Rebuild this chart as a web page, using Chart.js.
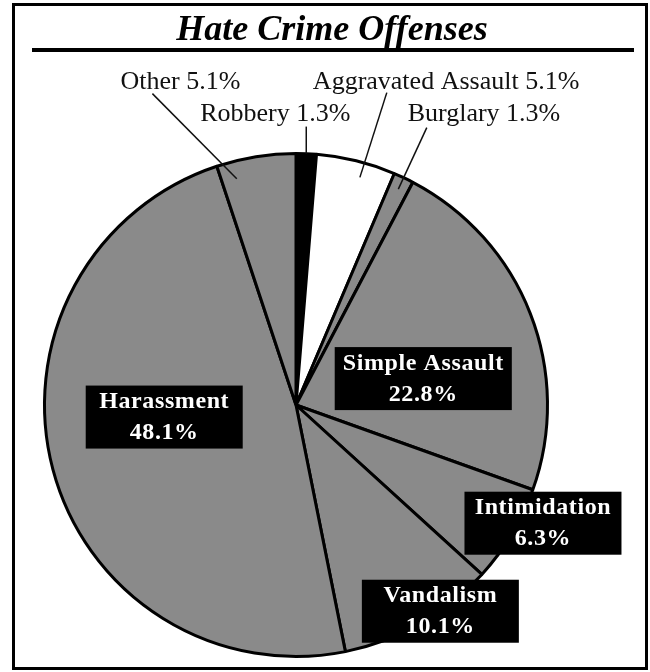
<!DOCTYPE html>
<html>
<head>
<meta charset="utf-8">
<script src="https://cdn.jsdelivr.net/npm/chart.js@4"></script>
<style>
  html, body { margin: 0; padding: 0; background: #fff; }
  canvas { display: block; }
</style>
</head>
<body>
<canvas id="pieChart" width="650" height="672"></canvas>
<script>
// ===== DATA =====
const categories = ['Robbery', 'Aggravated Assault', 'Burglary', 'Simple Assault',
                    'Intimidation', 'Vandalism', 'Harassment', 'Other'];
const percents = [1.3, 5.1, 1.3, 22.8, 6.3, 10.1, 48.1, 5.1];

// ===== STYLE =====
const GRAY = '#8a8a8a';
const sliceColors = ['#000000', '#ffffff', GRAY, GRAY, GRAY, GRAY, GRAY, GRAY];
const SERIF = '"Liberation Serif", "Times New Roman", serif';

// boxed labels inside the pie: centre offset in units of radius
const boxLabels = {
  'Simple Assault': { dx: 0.506, dy: -0.105 },
  'Harassment':     { dx: -0.524, dy: 0.048 },
  'Intimidation':   { dx: 0.982, dy: 0.470 },
  'Vandalism':      { dx: 0.574, dy: 0.820 }
};

// outside labels: text anchor (left, baseline), leader outer end, leader inner point (t along slice, r fraction)
const outLabels = {
  'Other':              { tx: -0.698, ty: -1.258, ox: -0.571, oy: -1.238, t: 0.2, r: 0.93 },
  'Aggravated Assault': { tx: 0.067,  ty: -1.258, ox: 0.361,  oy: -1.242, t: 0.6, r: 0.94 },
  'Robbery':            { tx: -0.381, ty: -1.131, ox: null,   oy: -1.107, t: 0.5, r: 1.0 },
  'Burglary':           { tx: 0.444,  ty: -1.131, ox: 0.520,  oy: -1.103, t: 0.5, r: 0.95 }
};

// ===== PLUGINS =====
const framePlugin = {
  id: 'frame',
  beforeDraw(chart) {
    const ctx = chart.ctx;
    ctx.save();
    ctx.fillStyle = '#fff';
    ctx.fillRect(0, 0, chart.width, chart.height);
    ctx.strokeStyle = '#000';
    ctx.lineWidth = 3;
    ctx.strokeRect(13.5, 4.5, 633, 664);
    // title
    ctx.fillStyle = '#000';
    ctx.font = 'italic bold 36px ' + SERIF;
    ctx.textAlign = 'center';
    ctx.textBaseline = 'alphabetic';
    ctx.fillText('Hate Crime Offenses', 332, 40);
    ctx.lineWidth = 4;
    ctx.beginPath();
    ctx.moveTo(32, 50);
    ctx.lineTo(634, 50);
    ctx.stroke();
    ctx.restore();
  }
};

const labelPlugin = {
  id: 'sliceLabels',
  afterDatasetsDraw(chart) {
    const ctx = chart.ctx;
    const arcs = chart.getDatasetMeta(0).data;
    const cx = arcs[0].x, cy = arcs[0].y, R = arcs[0].outerRadius;
    ctx.save();

    arcs.forEach((arc, i) => {
      const name = categories[i];
      const text = `${percents[i].toFixed(1)}%`;

      if (boxLabels[name]) {
        const p = boxLabels[name];
        const x = cx + p.dx * R, y = cy + p.dy * R;
        ctx.font = 'bold 24px ' + SERIF;
        ctx.letterSpacing = '0.6px';
        const w = Math.max(ctx.measureText(name).width + 16, 157);
        const h = 63;
        ctx.fillStyle = '#000';
        ctx.fillRect(x - w / 2, y - h / 2, w, h);
        ctx.fillStyle = '#fff';
        ctx.textAlign = 'center';
        ctx.textBaseline = 'middle';
        ctx.fillText(name, x, y - 15);
        ctx.fillText(text, x, y + 16);
        ctx.letterSpacing = '0px';
      }

      if (outLabels[name]) {
        const p = outLabels[name];
        const a = arc.startAngle + p.t * (arc.endAngle - arc.startAngle);
        const ix = cx + Math.cos(a) * R * p.r;
        const iy = cy + Math.sin(a) * R * p.r;
        const ox = p.ox === null ? ix : cx + p.ox * R;
        const oy = cy + p.oy * R;
        ctx.strokeStyle = '#111';
        ctx.lineWidth = 1.5;
        ctx.beginPath();
        ctx.moveTo(ox, oy);
        ctx.lineTo(ix, iy);
        ctx.stroke();

        ctx.fillStyle = '#111';
        ctx.font = '26px ' + SERIF;
        ctx.textAlign = 'left';
        ctx.textBaseline = 'alphabetic';
        ctx.fillText(`${name} ${text}`, cx + p.tx * R, cy + p.ty * R);
      }
    });
    ctx.restore();
  }
};

// ===== CHART =====
const config = {
  type: 'pie',
  data: {
    labels: categories,
    datasets: [{
      data: percents,
      backgroundColor: sliceColors,
      borderColor: '#000',
      borderWidth: 3
    }]
  },
  options: {
    responsive: false,
    animation: false,
    rotation: 0,
    layout: { padding: { left: 43, right: 101, top: 152, bottom: 14 } },
    plugins: {
      legend: { display: false },
      tooltip: { enabled: false }
    }
  },
  plugins: [framePlugin, labelPlugin]
};

new Chart(document.getElementById('pieChart'), config);
</script>
</body>
</html>
